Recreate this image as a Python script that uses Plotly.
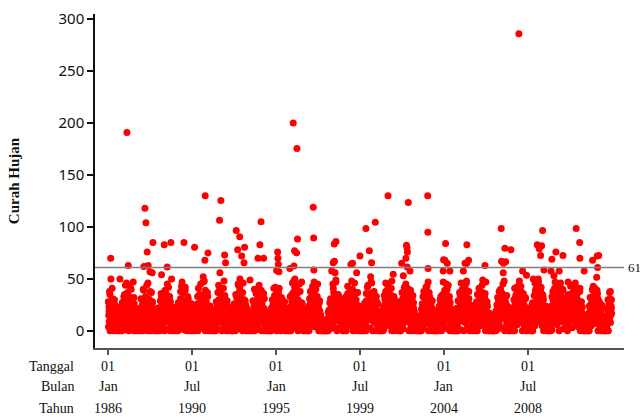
import pandas as pd
import plotly.graph_objects as go

# curah hujan harian: beberapa nilai contoh per dasarian, 1986 - 2012
tahun = list(range(1986, 2013))
hari_a = [5, 15, 25]
hari_b = [10, 20, 28]
hari_c = [2, 17]
curah_a = [
    4, 23, 38,  0, 16, 9,  27, 6, 31,  12, 0, 19,  8, 25, 2,  14, 0, 7,  3, 11, 0,  6, 0, 13,  2, 9, 0,  18, 5, 28,  10, 35, 1,  21, 14, 46,
    7, 29, 12,  0, 33, 18,  5, 24, 40,  15, 2, 21,  9, 0, 26,  4, 13, 0,  1, 8, 17,  0, 5, 2,  11, 0, 6,  20, 3, 14,  27, 0, 39,  16, 25, 8,
    19, 3, 44,  26, 0, 12,  31, 8, 22,  0, 17, 37,  5, 28, 10,  13, 0, 4,  9, 2, 0,  15, 6, 0,  3, 12, 1,  0, 22, 7,  34, 11, 25,  4, 29, 17,
    0, 24, 14,  36, 9, 27,  2, 19, 42,  11, 30, 0,  23, 6, 15,  0, 10, 3,  7, 0, 12,  1, 8, 0,  16, 4, 0,  25, 13, 2,  9, 31, 20,  43, 5, 22,
    28, 10, 1,  17, 39, 6,  24, 0, 13,  33, 21, 4,  0, 15, 9,  18, 2, 0,  5, 11, 0,  8, 1, 14,  0, 6, 3,  12, 26, 0,  20, 7, 35,  15, 45, 11,
    3, 32, 19,  9, 25, 48,  14, 0, 29,  21, 6, 37,  12, 18, 0,  2, 23, 7,  0, 4, 10,  13, 0, 3,  6, 0, 1,  0, 9, 17,  26, 2, 14,  30, 19, 40,
    22, 8, 35,  0, 27, 16,  41, 12, 4,  19, 30, 0,  8, 14, 24,  0, 5, 11,  16, 1, 0,  3, 9, 0,  0, 13, 2,  7, 21, 0,  15, 33, 10,  24, 6, 44,
    13, 38, 2,  25, 9, 31,  18, 0, 46,  6, 22, 14,  29, 3, 0,  11, 17, 5,  0, 7, 1,  9, 0, 4,  2, 0, 12,  19, 5, 24,  0, 28, 16,  36, 11, 21,
    6, 26, 17,  34, 1, 20,  11, 39, 0,  23, 8, 15,  0, 31, 4,  14, 0, 9,  2, 6, 0,  0, 3, 1,  5, 0, 0,  8, 15, 2,  21, 4, 30,  12, 42, 18,
    27, 0, 15,  9, 37, 22,  33, 13, 5,  0, 25, 18,  16, 7, 28,  4, 20, 0,  10, 0, 14,  6, 2, 0,  0, 11, 7,  23, 0, 17,  35, 9, 26,  14, 48, 3,
    31, 12, 24,  43, 5, 19,  0, 29, 14,  20, 38, 8,  2, 17, 26,  11, 0, 6,  0, 9, 3,  15, 1, 0,  4, 0, 10,  0, 19, 12,  27, 6, 33,  18, 40, 9,
    16, 36, 4,  25, 11, 30,  7, 22, 45,  13, 0, 27,  19, 5, 10,  0, 3, 0,  8, 1, 0,  0, 2, 0,  1, 0, 0,  4, 0, 6,  10, 18, 2,  28, 13, 23,
    20, 7, 41,  15, 32, 3,  26, 47, 12,  0, 21, 34,  17, 9, 25,  30, 4, 13,  6, 19, 0,  11, 0, 16,  22, 3, 8,  0, 27, 14,  36, 10, 24,  5, 31, 39,
    9, 28, 18,  40, 0, 23,  14, 33, 6,  24, 12, 0,  37, 2, 17,  8, 21, 0,  0, 13, 5,  2, 0, 9,  15, 0, 3,  21, 6, 0,  29, 14, 42,  11, 25, 34,
    24, 3, 35,  17, 46, 10,  0, 26, 19,  31, 8, 22,  13, 0, 28,  5, 16, 1,  11, 0, 4,  0, 7, 0,  3, 10, 0,  18, 2, 25,  9, 38, 15,  27, 6, 44,
    36, 14, 21,  5, 29, 12,  41, 0, 18,  23, 10, 33,  0, 20, 7,  15, 3, 26,  9, 0, 12,  4, 14, 0,  0, 6, 19,  12, 31, 2,  24, 8, 39,  17, 45, 28,
    26, 9, 38,  19, 0, 30,  13, 35, 4,  22, 16, 0,  8, 27, 11,  0, 14, 2,  5, 0, 0,  1, 4, 0,  0, 2, 0,  10, 0, 7,  18, 23, 3,  32, 12, 20,
    15, 42, 7,  28, 21, 47,  0, 18, 33,  11, 25, 3,  20, 0, 14,  6, 9, 0,  0, 3, 0,  2, 0, 5,  0, 11, 1,  16, 4, 22,  27, 0, 13,  35, 19, 8,
    30, 11, 23,  4, 38, 16,  25, 2, 44,  17, 29, 0,  9, 21, 6,  13, 0, 18,  0, 8, 2,  0, 3, 0,  7, 0, 12,  0, 15, 9,  20, 34, 1,  26, 14, 40,
    19, 33, 0,  24, 8, 39,  12, 46, 27,  3, 20, 14,  31, 0, 10,  16, 22, 5,  0, 12, 7,  9, 0, 2,  4, 17, 0,  13, 0, 24,  28, 6, 36,  11, 30, 21,
    23, 5, 37,  14, 27, 9,  32, 16, 0,  20, 1, 28,  6, 13, 0,  0, 8, 3,  2, 0, 0,  0, 1, 0,  0, 0, 4,  5, 0, 10,  15, 21, 2,  29, 8, 26,
    12, 40, 21,  27, 3, 34,  17, 24, 48,  0, 30, 13,  22, 7, 19,  9, 0, 15,  4, 11, 0,  16, 2, 8,  0, 6, 13,  19, 0, 27,  33, 10, 22,  6, 37, 25,
    35, 18, 8,  29, 43, 14,  21, 0, 31,  10, 25, 4,  15, 32, 0,  7, 17, 3,  0, 5, 9,  1, 12, 0,  8, 0, 2,  0, 14, 20,  24, 5, 38,  16, 28, 45,
    27, 9, 47,  14, 36, 22,  39, 13, 26,  5, 19, 33,  0, 24, 11,  18, 2, 8,  10, 0, 3,  0, 6, 0,  2, 9, 0,  12, 1, 17,  30, 22, 7,  41, 15, 34,
    20, 31, 6,  25, 12, 44,  0, 28, 17,  36, 9, 23,  14, 40, 2,  26, 11, 19,  7, 21, 4,  15, 0, 12,  18, 5, 27,  9, 33, 14,  22, 3, 37,  13, 29, 24,
    33, 15, 42,  8, 26, 19,  30, 4, 23,  12, 38, 0,  21, 9, 16,  3, 14, 0,  0, 6, 0,  4, 0, 1,  0, 2, 0,  7, 0, 13,  19, 25, 5,  28, 11, 39,
    17, 34, 24,  41, 7, 29,  22, 13, 36,  0, 27, 10,  15, 3, 20,  6, 0, 11,  2, 8, 0,  0, 3, 0,  0, 0, 5,  9, 16, 0,  12, 26, 31,  8, 21, 30,
]
curah_b = [
    15, 9, 20,  12, 24, 7,  18, 13, 22,  9, 17, 11,  14, 6, 19,  8, 12, 5,  10, 7, 3,  11, 4, 8,  6, 13, 9,  10, 21, 14,  19, 8, 24,  13, 26, 17,
    21, 11, 17,  25, 8, 14,  12, 19, 23,  7, 22, 16,  17, 11, 13,  6, 9, 15,  12, 4, 7,  9, 13, 3,  5, 8, 14,  16, 10, 23,  12, 20, 9,  24, 15, 19,
    10, 22, 14,  18, 13, 25,  16, 21, 9,  24, 12, 19,  20, 8, 15,  9, 14, 6,  5, 10, 13,  8, 3, 11,  12, 7, 4,  17, 13, 9,  22, 16, 11,  19, 24, 13,
    17, 12, 26,  11, 20, 15,  22, 9, 18,  14, 24, 8,  12, 17, 21,  13, 5, 9,  3, 14, 8,  10, 6, 12,  7, 11, 15,  13, 19, 8,  21, 14, 25,  16, 11, 20,
    12, 19, 23,  21, 10, 16,  15, 26, 11,  9, 17, 22,  19, 12, 6,  8, 13, 10,  11, 7, 4,  5, 12, 9,  13, 8, 3,  18, 10, 15,  14, 23, 19,  22, 17, 12,
    19, 14, 22,  13, 20, 17,  24, 11, 16,  12, 22, 9,  7, 15, 19,  14, 6, 11,  9, 12, 5,  4, 9, 7,  10, 13, 4,  12, 16, 8,  17, 11, 21,  14, 25, 18,
    16, 24, 11,  20, 13, 22,  11, 18, 25,  15, 9, 19,  21, 14, 8,  12, 9, 4,  6, 11, 14,  9, 5, 12,  13, 7, 9,  15, 11, 18,  22, 13, 20,  17, 26, 12,
    22, 16, 20,  12, 19, 24,  16, 23, 13,  19, 10, 17,  9, 18, 13,  7, 12, 14,  10, 4, 8,  13, 6, 10,  8, 14, 5,  11, 17, 13,  19, 12, 23,  14, 21, 16,
    14, 20, 9,  23, 15, 12,  20, 11, 17,  13, 19, 22,  16, 8, 12,  10, 15, 5,  8, 12, 3,  6, 10, 8,  11, 4, 9,  14, 9, 17,  12, 21, 15,  23, 13, 20,
    13, 21, 24,  18, 12, 16,  22, 17, 11,  14, 21, 9,  12, 17, 20,  10, 14, 7,  13, 8, 11,  4, 9, 12,  8, 14, 6,  17, 11, 20,  14, 22, 12,  20, 16, 24,
    18, 23, 12,  15, 21, 11,  24, 13, 19,  10, 16, 23,  20, 11, 14,  8, 13, 9,  12, 5, 10,  7, 11, 4,  13, 8, 12,  16, 12, 21,  19, 14, 22,  11, 24, 16,
    21, 12, 19,  16, 22, 10,  13, 19, 17,  22, 8, 15,  11, 16, 13,  6, 9, 4,  3, 6, 2,  5, 3, 7,  2, 4, 6,  8, 5, 11,  13, 9, 16,  18, 22, 12,
    14, 19, 23,  20, 12, 17,  16, 21, 14,  19, 13, 24,  12, 18, 21,  15, 9, 18,  11, 14, 8,  13, 9, 12,  14, 10, 17,  12, 20, 15,  18, 23, 12,  21, 16, 19,
    17, 21, 12,  13, 19, 24,  21, 11, 18,  15, 22, 10,  12, 16, 21,  11, 14, 7,  9, 12, 4,  7, 11, 13,  10, 6, 12,  14, 17, 9,  20, 12, 23,  16, 21, 14,
    12, 18, 21,  24, 13, 17,  19, 22, 10,  14, 17, 20,  18, 11, 15,  12, 8, 14,  6, 12, 9,  10, 4, 11,  8, 13, 6,  13, 19, 11,  21, 15, 18,  14, 22, 17,
    20, 13, 24,  17, 22, 9,  14, 19, 23,  11, 18, 15,  21, 13, 10,  9, 16, 12,  13, 7, 15,  10, 12, 6,  14, 9, 17,  19, 11, 22,  15, 20, 13,  23, 18, 21,
    13, 22, 17,  21, 11, 16,  19, 24, 12,  15, 20, 9,  17, 12, 19,  11, 8, 6,  4, 7, 3,  6, 2, 5,  3, 6, 2,  9, 5, 12,  13, 18, 10,  20, 14, 23,
    22, 14, 19,  12, 25, 17,  21, 13, 22,  16, 19, 10,  13, 17, 8,  9, 5, 11,  3, 7, 4,  6, 9, 2,  5, 8, 12,  11, 14, 18,  17, 21, 13,  15, 23, 19,
    16, 21, 13,  22, 17, 11,  18, 24, 14,  20, 12, 17,  15, 18, 10,  11, 14, 7,  8, 4, 9,  5, 7, 3,  10, 6, 13,  12, 17, 11,  22, 13, 19,  16, 25, 14,
    24, 13, 18,  17, 21, 15,  22, 16, 12,  19, 14, 21,  12, 17, 22,  14, 10, 16,  11, 8, 13,  7, 12, 5,  13, 9, 11,  17, 14, 20,  15, 22, 18,  23, 12, 17,
    14, 20, 16,  21, 12, 24,  13, 19, 22,  17, 10, 15,  11, 16, 8,  7, 10, 4,  3, 5, 2,  4, 2, 6,  2, 5, 3,  8, 4, 12,  12, 17, 9,  19, 14, 21,
    19, 16, 24,  13, 22, 17,  21, 12, 18,  16, 19, 23,  13, 18, 11,  10, 14, 8,  12, 6, 9,  8, 11, 13,  9, 12, 7,  15, 21, 12,  18, 14, 23,  21, 17, 13,
    16, 22, 13,  20, 14, 19,  24, 17, 12,  15, 21, 18,  11, 16, 20,  12, 9, 14,  7, 11, 5,  10, 6, 9,  5, 10, 13,  12, 18, 10,  17, 22, 14,  23, 15, 20,
    20, 14, 18,  23, 17, 12,  15, 22, 19,  21, 12, 16,  17, 13, 21,  9, 14, 11,  6, 9, 12,  4, 8, 5,  11, 7, 13,  15, 10, 19,  14, 23, 17,  18, 21, 13,
    22, 17, 24,  14, 19, 21,  23, 13, 18,  16, 22, 12,  19, 15, 23,  13, 18, 10,  16, 12, 20,  11, 17, 13,  14, 21, 10,  19, 13, 22,  24, 16, 18,  20, 14, 23,
    18, 23, 12,  21, 14, 17,  16, 20, 13,  19, 11, 22,  14, 18, 10,  12, 8, 15,  5, 10, 3,  7, 4, 9,  3, 7, 11,  10, 14, 8,  16, 21, 13,  22, 17, 20,
    21, 13, 19,  16, 23, 14,  20, 17, 12,  23, 14, 18,  12, 19, 15,  10, 13, 8,  9, 5, 12,  4, 8, 3,  6, 2, 9,  12, 8, 15,  18, 13, 21,  15, 22, 17,
]
curah_c = [
    28, 19,  35, 22,  17, 41,  24, 16,  30, 13,  18, 12,  15, 9,  20, 11,  14, 24,  27, 18,  33, 21,  44, 26,
    22, 37,  18, 29,  43, 20,  26, 15,  19, 32,  14, 21,  10, 17,  13, 8,  16, 22,  31, 19,  24, 40,  29, 18,
    33, 21,  27, 46,  19, 30,  38, 23,  16, 27,  21, 12,  9, 18,  15, 11,  22, 14,  18, 29,  36, 25,  20, 34,
    25, 39,  31, 18,  45, 24,  22, 33,  28, 17,  12, 23,  19, 10,  14, 7,  11, 20,  27, 16,  22, 38,  30, 47,
    36, 20,  24, 42,  29, 17,  18, 31,  23, 14,  16, 26,  11, 15,  20, 9,  13, 18,  25, 33,  41, 22,  27, 19,
    21, 34,  47, 25,  18, 39,  28, 16,  33, 20,  15, 24,  12, 19,  8, 14,  17, 10,  20, 28,  23, 37,  44, 30,
    39, 24,  19, 31,  26, 48,  34, 17,  22, 29,  13, 20,  17, 9,  11, 16,  14, 22,  26, 18,  35, 23,  30, 45,
    27, 42,  33, 18,  24, 37,  20, 30,  17, 25,  22, 13,  9, 16,  14, 10,  18, 12,  29, 21,  40, 26,  23, 36,
    31, 22,  44, 26,  18, 35,  27, 19,  36, 21,  12, 18,  14, 8,  10, 6,  16, 11,  22, 30,  25, 41,  34, 19,
    23, 38,  29, 17,  41, 25,  20, 32,  26, 18,  19, 28,  15, 22,  12, 17,  21, 13,  33, 20,  28, 46,  37, 24,
    42, 26,  21, 36,  30, 19,  45, 23,  18, 27,  14, 21,  20, 12,  9, 15,  13, 19,  24, 31,  38, 22,  26, 43,
    34, 20,  27, 40,  19, 33,  24, 16,  29, 14,  11, 8,  6, 10,  5, 9,  7, 4,  12, 18,  20, 27,  31, 22,
    26, 45,  37, 21,  23, 49,  30, 18,  35, 24,  27, 19,  22, 31,  18, 25,  28, 20,  33, 22,  43, 27,  24, 38,
    40, 23,  22, 34,  28, 46,  19, 30,  25, 37,  16, 24,  14, 20,  11, 18,  17, 23,  27, 15,  36, 28,  44, 21,
    29, 36,  47, 22,  24, 31,  38, 20,  21, 33,  18, 26,  15, 10,  12, 19,  16, 9,  22, 34,  30, 46,  25, 39,
    45, 27,  20, 35,  32, 48,  26, 19,  31, 23,  24, 16,  19, 28,  13, 21,  25, 17,  37, 24,  29, 42,  33, 26,
    24, 41,  35, 20,  27, 39,  18, 31,  34, 22,  17, 11,  8, 13,  6, 10,  9, 5,  15, 21,  26, 33,  38, 23,
    36, 22,  43, 28,  20, 37,  31, 18,  23, 29,  14, 20,  10, 7,  12, 6,  15, 19,  24, 30,  33, 21,  27, 47,
    22, 39,  28, 45,  40, 24,  19, 33,  27, 17,  21, 14,  13, 18,  9, 11,  16, 22,  29, 20,  37, 26,  46, 30,
    31, 19,  26, 42,  35, 48,  22, 30,  38, 20,  25, 18,  17, 23,  14, 20,  19, 26,  28, 35,  23, 41,  34, 25,
    27, 44,  33, 21,  20, 36,  29, 18,  24, 15,  12, 17,  8, 5,  6, 10,  7, 12,  14, 19,  25, 32,  21, 38,
    39, 24,  22, 36,  45, 27,  31, 20,  26, 34,  18, 23,  15, 21,  19, 13,  22, 16,  30, 41,  27, 35,  24, 43,
    33, 48,  24, 38,  29, 21,  36, 25,  20, 31,  22, 14,  16, 11,  13, 19,  18, 25,  27, 17,  34, 46,  40, 28,
    44, 26,  31, 20,  27, 42,  23, 35,  30, 18,  17, 24,  12, 16,  9, 14,  20, 12,  24, 33,  38, 21,  29, 47,
    25, 37,  41, 28,  34, 22,  46, 26,  29, 39,  32, 20,  27, 18,  21, 30,  35, 24,  26, 43,  31, 22,  44, 29,
    30, 46,  22, 35,  38, 24,  27, 41,  19, 28,  23, 15,  11, 8,  10, 14,  7, 12,  17, 24,  32, 20,  26, 40,
    43, 27,  36, 21,  24, 39,  31, 19,  28, 22,  18, 25,  14, 10,  9, 13,  12, 8,  21, 30,  25, 37,  38, 24,
]

# hari-hari hujan lebat yang terlihat sendiri-sendiri di atas pita
tanggal_lebat = [
    "1986-02-17", "1986-02-22", "1986-08-18", "1987-01-01", "1987-01-27", "1987-05-04", "1987-11-29", "1987-12-20",
    "1988-01-08", "1988-02-02", "1988-02-21", "1988-03-27", "1988-05-10", "1988-05-25", "1988-11-10", "1989-01-01",
    "1989-02-28", "1989-05-11", "1989-05-25", "1990-01-22", "1990-08-18", "1991-02-03", "1991-03-08", "1991-03-14",
    "1991-05-07", "1991-12-20", "1991-12-27", "1992-01-15", "1992-03-28", "1992-04-16", "1992-11-10", "1992-12-09",
    "1993-01-18", "1993-01-22", "1993-02-25", "1993-04-12", "1993-04-23", "1993-08-08", "1994-01-11", "1994-02-18",
    "1994-03-11", "1994-05-01", "1995-01-11", "1995-01-30", "1995-02-05", "1995-02-13", "1995-02-25", "1995-09-27",
    "1995-12-02", "1995-12-16", "1995-12-28", "1996-01-04", "1996-02-06", "1996-02-13", "1996-02-24", "1996-05-15",
    "1996-12-28", "1997-01-05", "1997-01-09", "1997-01-14", "1997-12-25", "1998-01-23", "1998-02-13", "1998-02-17",
    "1998-02-28", "1998-03-18", "1999-01-05", "1999-01-19", "1999-02-06", "1999-04-27", "1999-07-01", "1999-10-26",
    "2000-01-01", "2000-01-26", "2000-02-14", "2000-04-26", "2001-01-01", "2001-04-12", "2001-09-24", "2001-10-27",
    "2001-12-17", "2001-12-28", "2002-01-08", "2002-01-12", "2002-01-15", "2002-02-02", "2002-03-07", "2003-02-17",
    "2003-02-20", "2003-02-24", "2003-12-17", "2003-12-25", "2004-01-19", "2004-02-02", "2004-03-06", "2004-04-26",
    "2005-01-15", "2005-02-17", "2005-03-21", "2005-03-25", "2005-04-27", "2006-01-29", "2006-03-14", "2006-04-01",
    "2007-01-26", "2007-02-02", "2007-03-07", "2007-03-12", "2007-04-08", "2007-04-22", "2007-08-04", "2008-01-08",
    "2008-03-20", "2008-06-05", "2008-10-16", "2009-01-01", "2009-01-22", "2009-02-09", "2009-03-07", "2009-03-28",
    "2009-04-16", "2009-05-12", "2009-09-27", "2009-10-15", "2009-11-24", "2010-01-01", "2010-03-07", "2010-05-19",
    "2010-08-29", "2011-02-03", "2011-04-12", "2011-04-16", "2011-07-09", "2011-12-21", "2012-03-10", "2012-03-21",
    "2012-03-28", "2012-04-19",
]
curah_lebat = [
    70, 50, 50, 191, 63, 47, 62, 118,
    104, 76, 63, 57, 56, 85, 54, 83,
    61.5, 85, 50, 85, 80.5, 52, 68, 130,
    75, 106.5, 56, 125.5, 73, 65.5, 96.5, 78,
    90.5, 50, 72, 65.5, 80.5, 49, 70, 83,
    105, 70, 58, 76, 70, 64, 57, 60,
    200, 62.5, 77, 50, 75, 175.5, 88.5, 47,
    119, 89.5, 58.5, 47, 57.5, 65.5, 83.5, 67,
    56, 86, 64, 48, 65, 56, 72, 98.5,
    77, 52, 65.5, 104.5, 130, 54.5, 65, 53,
    70, 82.5, 80, 61.5, 76, 123.5, 57.5, 130,
    95, 60, 57.5, 68.5, 68, 84, 65, 57.5,
    57.5, 65, 65, 83, 68, 49, 63, 47,
    98.5, 67, 56, 65, 79.5, 66.5, 78, 286,
    57.5, 53.5, 50, 83, 50, 79, 72.5, 82,
    96.5, 58.5, 57.5, 69, 53, 76, 57.5, 72.5,
    47, 98.5, 85, 70, 57.5, 68, 51.5, 72,
    61, 72.5,
]

batas = 61

tick_tanggal = ["1986-01-01", "1990-07-01", "1995-01-01", "1999-07-01", "2004-01-01", "2008-07-01"]
label_tanggal = ["01", "01", "01", "01", "01", "01"]
label_bulan = ["Jan", "Jul", "Jan", "Jul", "Jan", "Jul"]
label_tahun = ["1986", "1990", "1995", "1999", "2004", "2008"]


def tanggal_untuk(hari):
    return [f"{t}-{b:02d}-{h:02d}" for t in tahun for b in range(1, 13) for h in hari]


potongan = []
for hari, nilai in [(hari_a, curah_a), (hari_b, curah_b), (hari_c, curah_c), (None, curah_lebat)]:
    tgl = tanggal_lebat if hari is None else tanggal_untuk(hari)
    assert len(tgl) == len(nilai)
    potongan.append(pd.DataFrame({"tanggal": pd.to_datetime(tgl), "hujan": nilai}))
df = pd.concat(potongan).sort_values("tanggal")

serif = "Liberation Serif, Times New Roman, serif"

fig = go.Figure(go.Scatter(
    x=df["tanggal"], y=df["hujan"], mode="markers",
    marker=dict(color="#ff0000", size=7, line=dict(width=0)),
    showlegend=False, cliponaxis=False,
))

fig.add_hline(y=batas, line=dict(color="#7f7f7f", width=1.5))

annotations = [dict(x=1, xref="paper", y=batas, yref="y", text=str(batas), showarrow=False,
                    xanchor="left", xshift=2, font=dict(family=serif, size=13, color="#111"))]
for i, t in enumerate(tick_tanggal):
    for teks, geser in [(label_tanggal[i], -18), (label_bulan[i], -38), (label_tahun[i], -60)]:
        annotations.append(dict(x=t, xref="x", y=0, yref="paper", text=teks, showarrow=False,
                                yanchor="middle", yshift=geser, font=dict(family=serif, size=14, color="#111")))
for teks, geser in [("Tanggal", -18), ("Bulan", -38), ("Tahun", -60)]:
    annotations.append(dict(x=0, xref="paper", y=0, yref="paper", text=teks, showarrow=False,
                            xanchor="right", yanchor="middle", xshift=-19, yshift=geser,
                            font=dict(family=serif, size=14, color="#111")))

fig.update_layout(
    width=642, height=417,
    margin=dict(l=95, r=18, t=9, b=69),
    plot_bgcolor="white", paper_bgcolor="white",
    annotations=annotations,
    xaxis=dict(type="date", range=["1985-04-16", "2013-08-27"], tickvals=tick_tanggal,
               showticklabels=False, ticks="outside", ticklen=5, tickwidth=1.5, tickcolor="#555",
               showline=True, linecolor="#555", linewidth=1.5, showgrid=False, zeroline=False),
    yaxis=dict(range=[-16.5, 305], tickvals=[0, 50, 100, 150, 200, 250, 300],
               ticks="outside", ticklen=6, tickwidth=1.5, tickcolor="#111",
               tickfont=dict(family="Noto Sans", size=15, color="#111"),
               showline=True, linecolor="#111", linewidth=1.5, showgrid=False, zeroline=False,
               title=dict(text="<b>Curah Hujan</b>", standoff=35,
                          font=dict(family=serif, size=15, color="#111"))),
)

fig.write_html("out.html", config={"displayModeBar": False},
               post_script="document.body.style.margin='0';document.body.style.overflow='hidden';")
